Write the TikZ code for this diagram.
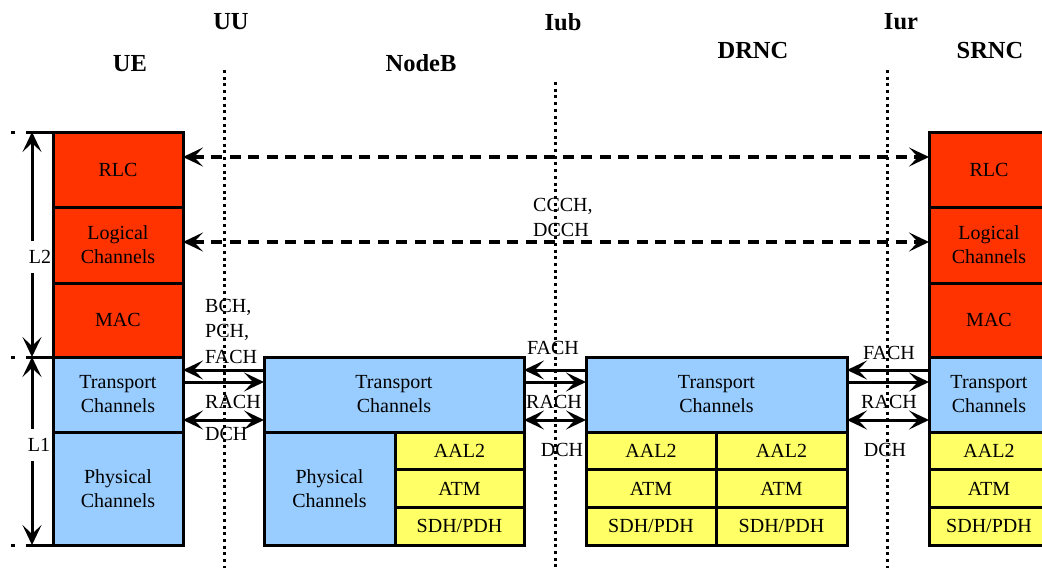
\documentclass[tikz,border=0pt]{standalone}
\usepackage{fontspec}
\setmainfont{Liberation Serif}
\usetikzlibrary{arrows.meta}
\definecolor{layertwo}{RGB}{255,51,0}
\definecolor{layerone}{RGB}{153,204,255}
\definecolor{transportnet}{RGB}{255,255,102}

\begin{document}
\begin{tikzpicture}[x=1pt,y=-1pt,
  box/.style={draw=black, line width=3pt, inner sep=0pt, outer sep=0pt,
    anchor=north west, align=center, font=\fontsize{20}{24}\selectfont},
  l2box/.style={box, fill=layertwo},
  l1box/.style={box, fill=layerone},
  tnbox/.style={box, fill=transportnet},
  head/.style={font=\fontsize{24.5}{28}\selectfont\bfseries, inner sep=0pt},
  lbl/.style={font=\fontsize{20}{25.5}\selectfont, inner sep=0pt, align=left},
  ifline/.style={line width=3pt, dash pattern=on 3pt off 3.7pt},
  tickline/.style={line width=3pt, dash pattern=on 4pt off 11pt on 30pt},
  >={Stealth[length=20pt,width=19pt,inset=9pt]},
  peer/.style={line width=3.5pt, dash pattern=on 11pt off 7.5pt},
  link/.style={line width=3pt},
  dim/.style={line width=3pt},
]
\useasboundingbox (0,0) rectangle (1042,568);

% interface boundaries
\draw[ifline] (224,70) -- (224,568);
\draw[ifline] (555,82) -- (555,568);
\draw[ifline] (887,70) -- (887,568);

% headings
\node[head] (hUU)   at (231,22) {UU};
\node[head] (hIub)  at (563,22) {Iub};
\node[head] (hIur)  at (901,22) {Iur};
\node[head] (hUE)   at (130,64) {UE};
\node[head] (hNB)   at (421,63) {NodeB};
\node[head] (hDRNC) at (753,51) {DRNC};
\node[head] (hSRNC) at (990,51) {SRNC};

% UE stack
\node[l2box, minimum width=130pt, minimum height=75pt]  (ueRLC) at (53,132) {RLC};
\node[l2box, minimum width=130pt, minimum height=76pt]  (ueLog) at (53,207) {Logical\\Channels};
\node[l2box, minimum width=130pt, minimum height=74pt]  (ueMAC) at (53,283) {MAC};
\node[l1box, minimum width=130pt, minimum height=75pt]  (ueTr)  at (53,357) {Transport\\Channels};
\node[l1box, minimum width=130pt, minimum height=113pt] (uePh)  at (53,432) {Physical\\Channels};

% NodeB stack
\node[l1box, minimum width=260pt, minimum height=75pt]  (nbTr)  at (264,357) {Transport\\Channels};
\node[l1box, minimum width=131pt, minimum height=113pt] (nbPh)  at (264,432) {Physical\\Channels};
\node[tnbox, minimum width=129pt, minimum height=37.7pt] (nbAAL) at (395,432) {AAL2};
\node[tnbox, minimum width=129pt, minimum height=37.6pt] (nbATM) at (395,469.7) {ATM};
\node[tnbox, minimum width=129pt, minimum height=37.7pt] (nbSDH) at (395,507.3) {SDH/PDH};

% DRNC stack
\node[l1box, minimum width=261pt, minimum height=75pt]  (drTr)  at (586,357) {Transport\\Channels};
\node[tnbox, minimum width=130pt, minimum height=37.7pt] (drAALa) at (586,432) {AAL2};
\node[tnbox, minimum width=130pt, minimum height=37.6pt] (drATMa) at (586,469.7) {ATM};
\node[tnbox, minimum width=130pt, minimum height=37.7pt] (drSDHa) at (586,507.3) {SDH/PDH};
\node[tnbox, minimum width=131pt, minimum height=37.7pt] (drAALb) at (716,432) {AAL2};
\node[tnbox, minimum width=131pt, minimum height=37.6pt] (drATMb) at (716,469.7) {ATM};
\node[tnbox, minimum width=131pt, minimum height=37.7pt] (drSDHb) at (716,507.3) {SDH/PDH};

% SRNC stack
\node[l2box, minimum width=120pt, minimum height=75pt]  (srRLC) at (929,132) {RLC};
\node[l2box, minimum width=120pt, minimum height=76pt]  (srLog) at (929,207) {Logical\\Channels};
\node[l2box, minimum width=120pt, minimum height=74pt]  (srMAC) at (929,283) {MAC};
\node[l1box, minimum width=120pt, minimum height=75pt]  (srTr)  at (929,357) {Transport\\Channels};
\node[tnbox, minimum width=120pt, minimum height=37.7pt] (srAAL) at (929,432) {AAL2};
\node[tnbox, minimum width=120pt, minimum height=37.6pt] (srATM) at (929,469.7) {ATM};
\node[tnbox, minimum width=120pt, minimum height=37.7pt] (srSDH) at (929,507.3) {SDH/PDH};

% layer scale on the left
\coordinate (l2top) at (11,132);
\coordinate (l12)   at (11,357);
\coordinate (l1bot) at (11,545);
\draw[tickline] (l2top) -- (ueRLC.north west);
\draw[tickline] (l12)   -- (ueTr.north west);
\draw[tickline] (l1bot) -- (uePh.south west);
\coordinate (a2top) at (32,132);
\coordinate (a2bot) at (32,357);
\coordinate (a1top) at (32,357);
\coordinate (a1bot) at (32,545);
\draw[dim, <->] (a2top) -- (a2bot);
\draw[dim, <->] (a1top) -- (a1bot);
\node[lbl, fill=white, inner xsep=1pt, inner ysep=9pt] (tL2) at (40,257) {L2};
\node[lbl, fill=white, inner xsep=1pt, inner ysep=9pt] (tL1) at (39,445) {L1};

% peer-to-peer dashed links
\draw[peer, <->] (ueRLC.east |- 0,157) -- (srRLC.west |- 0,157);
\draw[peer, <->] (ueLog.east |- 0,242) -- (srLog.west |- 0,242);
\node[lbl, anchor=west] (tCCCH) at (533,217.5) {CCCH,\\DCCH};

% Uu transport channel links
\draw[link, ->] (nbTr.west |- 0,370) -- (ueTr.east |- 0,370);
\draw[link, ->] (ueTr.east |- 0,382) -- (nbTr.west |- 0,382);
\draw[link, <->] (ueTr.east |- 0,420) -- (nbTr.west |- 0,420);
\node[lbl, anchor=west] (tBCH) at (205,331) {BCH,\\PCH,\\FACH};
\node[lbl, anchor=west] (tRACHa) at (205,402) {RACH};
\node[lbl, anchor=west] (tDCHa) at (205,434) {DCH};

% Iub transport channel links
\draw[link, ->] (drTr.west |- 0,370) -- (nbTr.east |- 0,370);
\draw[link, ->] (nbTr.east |- 0,382) -- (drTr.west |- 0,382);
\draw[link, <->] (nbTr.east |- 0,420) -- (drTr.west |- 0,420);
\node[lbl] (tFACHb) at (553,348) {FACH};
\node[lbl] (tRACHb) at (554,402) {RACH};
\node[lbl] (tDCHb) at (562,450) {DCH};

% Iur transport channel links
\draw[link, ->] (srTr.west |- 0,370) -- (drTr.east |- 0,370);
\draw[link, ->] (drTr.east |- 0,382) -- (srTr.west |- 0,382);
\draw[link, <->] (drTr.east |- 0,420) -- (srTr.west |- 0,420);
\node[lbl] (tFACHc) at (889,353) {FACH};
\node[lbl] (tRACHc) at (889,402) {RACH};
\node[lbl] (tDCHc) at (885,450) {DCH};
\end{tikzpicture}
\end{document}
